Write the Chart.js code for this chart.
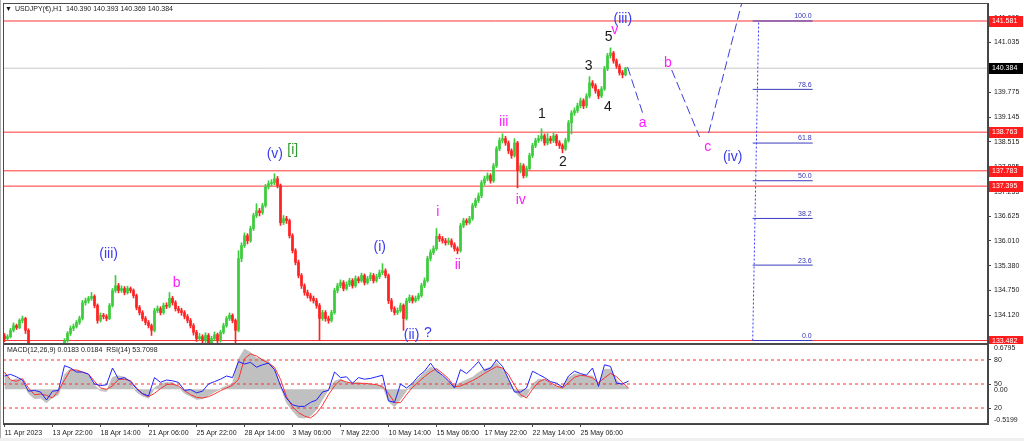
<!DOCTYPE html>
<html><head><meta charset="utf-8">
<script src="https://cdn.jsdelivr.net/npm/chart.js@4.4.0/dist/chart.umd.min.js"></script>
<style>
html,body{margin:0;padding:0;background:#fff;width:1024px;height:441px;overflow:hidden;}
#wrap{position:relative;width:1024px;height:441px;}
canvas{position:absolute;left:0;}
#main{top:0;}
#sub{top:343px;}
</style></head>
<body><div id="wrap"><canvas id="main" width="1024" height="344"></canvas><canvas id="sub" width="1024" height="98"></canvas></div>
<script>
// ---------- DATA ----------
const symbolTitle = 'USDJPY(\u20AC),H1  140.390 140.393 140.369 140.384';
const subTitle = 'MACD(12,26,9) 0.0183 0.0184  RSI(14) 53.7098';

// H1 candles aggregated to 4-hour bars, 11 Apr – 26 May 2023
const opens = [
133.60,133.53,133.58,133.74,133.86,133.81,133.99,134.04,133.74,133.28,
133.18,133.10,133.03,132.98,133.08,132.93,132.85,132.98,133.10,133.23,
133.33,133.48,133.66,133.79,133.84,133.94,134.04,134.44,134.49,134.55,
134.60,134.37,133.99,134.12,134.09,134.04,134.37,134.75,134.87,134.75,
134.80,134.70,134.80,134.75,134.62,134.32,134.19,134.04,133.94,133.86,
133.74,134.24,134.29,134.19,134.37,134.35,134.55,134.44,134.29,134.24,
134.19,134.09,133.99,133.86,133.69,133.53,133.58,133.48,133.61,133.41,
133.53,133.63,133.48,133.69,133.86,134.04,134.12,133.99,133.74,135.56,
135.89,136.14,136.01,136.32,136.65,136.77,136.72,136.90,137.38,137.46,
137.48,137.58,137.41,136.47,136.57,136.52,136.14,135.76,135.46,135.13,
134.87,134.70,134.62,134.55,134.49,134.37,134.04,134.19,134.04,133.99,
134.19,134.75,134.87,134.95,134.80,134.90,135.00,134.87,135.05,135.00,
135.13,134.95,135.05,135.13,135.00,135.10,135.20,135.25,135.13,134.49,
134.29,134.19,134.24,134.37,134.04,134.49,134.57,134.49,134.55,134.62,
134.87,135.00,135.56,135.71,135.81,136.12,136.06,136.01,135.96,136.01,
135.91,135.81,135.76,136.39,136.52,136.47,136.57,136.90,137.03,137.15,
137.48,137.58,137.66,137.53,137.91,138.34,138.55,138.60,138.49,138.29,
138.17,138.49,137.79,137.91,137.66,137.84,138.17,138.42,138.55,138.60,
138.67,138.49,138.60,138.55,138.67,138.49,138.42,138.34,138.55,139.00,
139.25,139.31,139.43,139.56,139.43,139.68,140.01,139.94,139.81,139.68,
139.86,140.37,140.70,140.77,140.57,140.44,140.27,140.22];
const highs = [
133.66,133.63,133.79,133.93,133.90,134.03,134.10,134.07,133.78,133.33,
133.24,133.15,133.08,133.14,133.12,132.98,133.03,133.16,133.27,133.39,
133.53,133.71,133.85,133.90,133.99,134.10,134.50,134.56,134.60,134.70,
134.64,134.41,134.18,134.17,134.14,134.42,134.80,135.13,134.93,134.87,
134.85,134.86,134.84,134.79,134.66,134.37,134.24,134.09,133.99,133.90,
134.30,134.36,134.34,134.43,134.44,134.70,134.60,134.49,134.35,134.30,
134.24,134.14,134.04,133.91,133.74,133.66,133.63,133.68,133.66,133.59,
133.70,133.67,133.74,133.92,134.09,134.18,134.16,134.03,135.76,135.96,
136.21,136.19,136.38,136.71,136.95,136.83,136.96,137.44,137.53,137.56,
137.71,137.64,137.45,136.65,136.63,136.56,136.19,135.81,135.52,135.18,
134.92,134.76,134.68,134.61,134.55,134.42,134.25,134.24,134.10,134.25,
134.81,134.93,135.02,135.00,134.97,135.06,135.05,135.12,135.10,135.19,
135.17,135.11,135.20,135.18,135.16,135.27,135.43,135.30,135.17,134.55,
134.34,134.31,134.43,134.41,134.55,134.64,134.62,134.61,134.68,134.93,
135.07,135.62,135.78,135.88,136.32,136.18,136.12,136.07,136.08,136.06,
135.96,135.86,136.45,136.58,136.57,136.63,136.96,137.09,137.22,137.54,
137.65,137.73,137.71,137.97,138.40,138.62,138.72,138.66,138.54,138.34,
138.60,138.53,137.98,137.96,137.90,138.23,138.48,138.61,138.68,138.85,
138.72,138.73,138.66,138.75,138.71,138.55,138.47,138.61,139.06,139.31,
139.38,139.50,139.63,139.61,139.74,140.17,140.07,139.99,139.85,139.92,
140.43,140.76,140.90,140.81,140.62,140.49,140.33,140.41];
const lows = [
133.45,133.49,133.55,133.70,133.76,133.78,133.93,133.66,133.22,133.12,
133.04,132.97,132.90,132.94,132.86,132.79,132.81,132.95,133.06,133.19,
133.29,133.44,133.61,133.73,133.80,133.89,134.00,134.38,134.43,134.50,
134.31,133.92,133.95,134.03,133.98,134.01,134.33,134.70,134.69,134.70,
134.64,134.66,134.69,134.56,134.26,134.13,133.98,133.88,133.80,133.61,
133.70,134.19,134.13,134.15,134.29,134.31,134.38,134.23,134.18,134.12,
134.03,133.93,133.80,133.62,133.46,133.48,133.40,133.43,133.35,133.37,
133.49,133.42,133.44,133.65,133.82,133.99,133.93,133.36,133.70,135.48,
135.84,135.93,135.97,136.27,136.60,136.64,136.68,136.86,137.32,137.40,
137.43,137.35,136.40,136.42,136.45,136.08,135.70,135.40,135.07,134.80,
134.63,134.56,134.48,134.43,134.30,133.48,133.99,133.97,133.92,133.95,
134.15,134.69,134.82,134.74,134.76,134.85,134.81,134.83,134.94,134.96,
134.89,134.91,135.00,134.94,134.96,135.05,135.15,135.07,134.42,134.22,
134.13,134.14,134.20,133.74,134.00,134.44,134.43,134.45,134.50,134.58,
134.82,134.96,135.50,135.66,135.77,135.99,135.95,135.90,135.91,135.85,
135.75,135.68,135.72,136.34,136.41,136.43,136.53,136.85,136.98,137.10,
137.42,137.53,137.47,137.49,137.87,138.29,138.49,138.43,138.22,138.10,
138.13,137.35,137.73,137.60,137.62,137.80,138.12,138.37,138.50,138.54,
138.43,138.44,138.48,138.50,138.42,138.35,138.24,138.30,138.51,138.72,
139.19,139.26,139.38,139.36,139.38,139.63,139.88,139.75,139.61,139.64,
139.82,140.32,140.64,140.51,140.38,140.21,140.14,140.19];
const closes = [
133.53,133.58,133.74,133.86,133.81,133.99,134.04,133.74,133.28,133.18,
133.10,133.03,132.98,133.08,132.93,132.85,132.98,133.10,133.23,133.33,
133.48,133.66,133.79,133.84,133.94,134.04,134.44,134.49,134.55,134.60,
134.37,133.99,134.12,134.09,134.04,134.37,134.75,134.87,134.75,134.80,
134.70,134.80,134.75,134.62,134.32,134.19,134.04,133.94,133.86,133.74,
134.24,134.29,134.19,134.37,134.35,134.55,134.44,134.29,134.24,134.19,
134.09,133.99,133.86,133.69,133.53,133.58,133.48,133.61,133.41,133.53,
133.63,133.48,133.69,133.86,134.04,134.12,133.99,133.74,135.56,135.89,
136.14,136.01,136.32,136.65,136.77,136.72,136.90,137.38,137.46,137.48,
137.58,137.41,136.47,136.57,136.52,136.14,135.76,135.46,135.13,134.87,
134.70,134.62,134.55,134.49,134.37,134.04,134.19,134.04,133.99,134.19,
134.75,134.87,134.95,134.80,134.90,135.00,134.87,135.05,135.00,135.13,
134.95,135.05,135.13,135.00,135.10,135.20,135.25,135.13,134.49,134.29,
134.19,134.24,134.37,134.04,134.49,134.57,134.49,134.55,134.62,134.87,
135.00,135.56,135.71,135.81,136.12,136.06,136.01,135.96,136.01,135.91,
135.81,135.76,136.39,136.52,136.47,136.57,136.90,137.03,137.15,137.48,
137.58,137.66,137.53,137.91,138.34,138.55,138.60,138.49,138.29,138.17,
138.49,137.79,137.91,137.66,137.84,138.17,138.42,138.55,138.60,138.67,
138.49,138.60,138.55,138.67,138.49,138.42,138.34,138.55,139.00,139.25,
139.31,139.43,139.56,139.43,139.68,140.01,139.94,139.81,139.68,139.86,
140.37,140.70,140.77,140.57,140.44,140.27,140.22,140.38];

// price scale
const priceTicks = [134.120,134.750,135.380,136.010,136.625,137.255,137.885,138.515,139.145,139.775,140.405,141.035,141.665];
const levelPrices = [141.581,138.763,137.783,137.395,133.482];
const lastPrice = 140.384;

// fibonacci retracement tool
const fibLabels = ['100.0','78.6','61.8','50.0','38.2','23.6','0.0'];
const fibPrices = [141.581,139.848,138.487,137.532,136.576,135.393,133.482];
const fibSpan = [249.4, 269.4];
const fibTrendIdx = [249.4, 251.4];
const fibTrendPrice = [133.482, 141.581];

// projected wave path (bar index, price) segments
const projStartIdx = [207.7, 222.4, 234.7];
const projStartPrice = [140.415, 140.34, 138.74];
const projEndIdx = [212.7, 231.7, 246.7];
const projEndPrice = [139.25, 138.64, 142.32];

// Elliott wave labels
const waveText  = ['(iii)','b','(v)','[i]','(i)','(ii)','?','i','ii','iii','iv','1','2','3','4','5','v','(iii)','a','b','c','(iv)'];
const waveIdx   = [34.7,57.4,90.1,96.1,125.1,135.7,141.1,144.4,151.1,166.4,172.1,179.1,186.1,194.7,201.1,201.4,203.4,206.1,212.7,221.1,234.4,242.7];
const wavePrice = [135.675,134.94,138.21,138.31,135.85,133.62,133.67,136.74,135.40,139.02,137.04,139.22,138.01,140.44,139.40,141.18,141.35,141.63,138.99,140.52,138.39,138.13];
const waveKind  = ['B','M','B','G','B','B','B','M','M','M','M','K','K','K','K','K','M','B','M','M','M','B'];

// time axis
const timeTickIdx = [0,16,32,48,64,80,96,112,128,144,160,176,192];
const timeTickLabels = ['11 Apr 2023','13 Apr 22:00','18 Apr 14:00','21 Apr 06:00','25 Apr 22:00','28 Apr 14:00','3 May 06:00','7 May 22:00','10 May 14:00','15 May 06:00','17 May 22:00','22 May 14:00','25 May 06:00'];

// indicators sampled every 2 bars
const macdMain = [0.25,0.12,0.16,0.12,-0.06,-0.14,-0.13,-0.20,-0.12,-0.08,
0.22,0.31,0.28,0.25,0.20,0.06,-0.02,-0.03,0.18,0.20,
0.18,0.10,-0.04,-0.10,-0.13,0.02,0.08,0.10,0.10,0.04,
-0.06,-0.10,-0.15,-0.14,-0.09,-0.04,0.01,0.05,0.08,0.45,
0.60,0.55,0.47,0.45,0.42,0.30,0.05,-0.20,-0.32,-0.42,
-0.43,-0.40,-0.30,-0.15,0.00,0.12,0.15,0.10,0.09,0.10,
0.08,0.07,0.06,0.06,-0.18,-0.26,-0.15,-0.02,0.08,0.16,
0.25,0.33,0.30,0.20,0.12,0.05,0.10,0.14,0.18,0.25,
0.30,0.33,0.40,0.30,0.15,-0.03,-0.12,-0.10,0.08,0.15,
0.14,0.08,0.04,0.03,0.17,0.23,0.22,0.20,0.20,0.07,
0.30,0.30,0.14,0.06,0.02];
const macdSignal = [0.26,0.14,0.12,0.16,0.02,-0.08,-0.07,-0.09,-0.13,-0.02,
0.14,0.29,0.29,0.26,0.23,0.12,0.02,0.00,0.05,0.15,
0.15,0.13,0.02,-0.07,-0.11,-0.06,0.01,0.07,0.08,0.05,
-0.02,-0.08,-0.12,-0.13,-0.11,-0.07,-0.02,0.02,0.06,0.15,
0.46,0.53,0.50,0.44,0.39,0.33,0.15,-0.11,-0.26,-0.35,
-0.40,-0.43,-0.36,-0.24,-0.08,0.05,0.14,0.11,0.09,0.09,
0.09,0.08,0.07,0.04,-0.06,-0.20,-0.20,-0.08,0.03,0.11,
0.19,0.26,0.31,0.24,0.16,0.04,0.05,0.09,0.13,0.18,
0.24,0.29,0.34,0.32,0.22,0.06,-0.08,-0.13,0.00,0.11,
0.15,0.10,0.05,0.02,0.10,0.18,0.21,0.20,0.17,0.10,
0.17,0.24,0.19,0.10,0.02];
const rsi = [60,62,59,55,41,42,40,30,41,42,
73,70,65,65,62,50,48,49,70,56,
58,53,44,38,35,58,52,55,54,52,
42,43,39,41,50,53,56,60,58,78,
75,77,71,74,76,68,48,32,24,22,
22,27,30,40,42,65,58,59,51,58,
56,57,59,61,29,27,50,45,51,60,
66,76,66,61,54,45,68,63,70,78,
67,70,80,72,56,40,40,45,66,62,
58,53,51,46,60,66,63,61,70,47,
74,72,51,50,53.7];
const rsiLevels = [80,50,20];
const macdScaleMin = -0.5199, macdScaleMax = 0.6795;
const macdLabelValues = [0.6795, 0, -0.5199];
const macdLabelTexts = ['0.6795','0.00','-0.5199'];

// ---------- STYLE ----------
const FONT = '"Liberation Sans", Arial, sans-serif';
const SMALL = 7;
const UP = '#3ccc3c', DOWN = '#ff2222';
const X_MIN = -0.5, X_MAX = -0.5 + 985/3;
const Y_MIN = 133.419, Y_MAX = 142.037;
const AXIS_W = 36;
const waveColors = {B:'#3b3bf0', M:'#ff1fff', K:'#1a1a1a', G:'#2f9a2f'};

const candleColor = ctx => closes[ctx.dataIndex] >= opens[ctx.dataIndex] ? UP : DOWN;
function segs(x1, y1, x2, y2) {
  const d = [];
  for (let i = 0; i < x1.length; i++) d.push({x:x1[i], y:y1[i]}, {x:x2[i], y:y2[i]}, {x:x2[i], y:null});
  return d;
}
const lineDS = (data, color, dash, order, yAxisID) => ({type:'line', data, borderColor:color, borderWidth:1, borderDash:dash||[], pointRadius:0, tension:0, spanGaps:false, order, yAxisID: yAxisID||'y', fill:false});
const fitV = s => { s.width = AXIS_W; s.paddingTop = 0; s.paddingBottom = 0; };

const mainOverlay = {
  id:'mainOverlay',
  afterDraw(chart) {
    const c = chart.ctx, a = chart.chartArea, xs = chart.scales.x, ys = chart.scales.y;
    c.save();
    c.strokeStyle = '#4a4a4a'; c.lineWidth = 1;
    c.strokeRect(a.left + 0.5, a.top + 0.5, a.right - a.left - 1, a.bottom - a.top);
    c.strokeStyle = '#b0b0b0'; c.beginPath(); c.moveTo(0.5, 0); c.lineTo(0.5, 344); c.stroke();
    // title
    c.fillStyle = '#111'; c.font = '7px ' + FONT; c.textBaseline = 'middle'; c.textAlign = 'left';
    c.fillText('\u25BC', 5, 9.5);
    c.font = SMALL + 'px ' + FONT; c.fillStyle = '#222';
    c.fillText(symbolTitle, 15, 9.5);
    // wave labels
    c.font = '14px ' + FONT; c.textAlign = 'center'; c.textBaseline = 'middle';
    for (let i = 0; i < waveText.length; i++) {
      c.fillStyle = waveColors[waveKind[i]];
      c.fillText(waveText[i], xs.getPixelForValue(waveIdx[i]), ys.getPixelForValue(wavePrice[i]));
    }
    // fib labels
    c.font = '7px ' + FONT; c.fillStyle = '#3434b4'; c.textAlign = 'right'; c.textBaseline = 'bottom';
    for (let i = 0; i < fibLabels.length; i++) {
      c.fillText(fibLabels[i], xs.getPixelForValue(fibSpan[1]) - 1, ys.getPixelForValue(fibPrices[i]) - 1);
    }
    // price boxes on axis
    c.font = SMALL + 'px ' + FONT; c.textAlign = 'left'; c.textBaseline = 'middle';
    const box = (v, bg) => {
      const y = Math.round(ys.getPixelForValue(v));
      c.fillStyle = bg; c.fillRect(a.right + 1, y - 5, 34, 11);
      c.fillStyle = '#fff'; c.fillText(v.toFixed(3), a.right + 4, y + 0.5);
    };
    levelPrices.forEach(v => box(v, '#ff1c1c'));
    box(lastPrice, '#000');
    c.restore();
  }
};

new Chart(document.getElementById('main'), {
  type: 'bar',
  data: { datasets: [
    {type:'bar', data: opens.map((o, i) => ({x:i, y:[lows[i], highs[i]]})), backgroundColor: candleColor, barThickness:1, grouped:false, borderWidth:0, order:1},
    {type:'bar', data: opens.map((o, i) => ({x:i, y:[o, closes[i]]})), backgroundColor: candleColor, barThickness:2, grouped:false, borderWidth:0, minBarLength:1, order:0},
    lineDS(segs(levelPrices.map(() => X_MIN), levelPrices, levelPrices.map(() => X_MAX), levelPrices), '#ff3434', [], 6),
    lineDS(segs([X_MIN], [lastPrice], [X_MAX], [lastPrice]), '#c8c8c8', [], 7),
    lineDS(segs(fibPrices.map(() => fibSpan[0]), fibPrices, fibPrices.map(() => fibSpan[1]), fibPrices), '#3c3cc0', [], 4),
    lineDS(segs([fibTrendIdx[0]], [fibTrendPrice[0]], [fibTrendIdx[1]], [fibTrendPrice[1]]), '#3a3aff', [2, 2], 3),
    lineDS(segs(projStartIdx, projStartPrice, projEndIdx, projEndPrice), '#3c3cdc', [9, 4], 2)
  ]},
  options: {
    responsive:false, animation:false, events:[],
    layout:{padding:{left:3, top:3, right:0, bottom:1}},
    plugins:{legend:{display:false}, tooltip:{enabled:false}},
    scales:{
      x:{type:'linear', min:X_MIN, max:X_MAX, offset:false, display:false, grid:{offset:false}},
      y:{type:'linear', position:'right', min:Y_MIN, max:Y_MAX,
         afterBuildTicks: s => { s.ticks = priceTicks.map(v => ({value:v})); },
         afterFit: fitV,
         ticks:{font:{family:FONT, size:SMALL}, color:'#222', padding:3, autoSkip:false, callback: v => v.toFixed(3)},
         grid:{drawOnChartArea:false, tickLength:3, color:'#444'},
         border:{display:true, color:'#444'}}
    }
  },
  plugins:[mainOverlay]
});

const subOverlay = {
  id:'subOverlay',
  afterDraw(chart) {
    const c = chart.ctx, a = chart.chartArea, ym = chart.scales.yM;
    c.save();
    c.strokeStyle = '#4a4a4a'; c.lineWidth = 1;
    c.strokeRect(a.left + 0.5, a.top + 0.5, a.right - a.left - 1, a.bottom - a.top - 1);
    c.strokeStyle = '#b0b0b0'; c.beginPath(); c.moveTo(0.5, 0); c.lineTo(0.5, 98); c.stroke();
    c.fillStyle = '#f0f0f0'; c.fillRect(0, 95, 1024, 3);
    c.fillStyle = '#222'; c.font = SMALL + 'px ' + FONT; c.textAlign = 'left'; c.textBaseline = 'middle';
    c.fillText(subTitle, 7, 7.5);
    for (let i = 0; i < macdLabelValues.length; i++) {
      const v = macdLabelValues[i];
      let y = ym.getPixelForValue(v), base = 'middle';
      if (v === macdScaleMax) { base = 'top'; y += 1; }
      else if (v === macdScaleMin) { base = 'bottom'; }
      else { y += 1; }
      c.textBaseline = base;
      c.fillText(macdLabelTexts[i], a.right + 6, y);
    }
    c.restore();
  }
};

new Chart(document.getElementById('sub'), {
  type: 'line',
  data: { datasets: [
    {type:'line', data: macdMain.map((v, k) => ({x:2 * k, y:v})), yAxisID:'yM', borderColor:'#c0c0c0', borderWidth:1, backgroundColor:'#c0c0c0', fill:'origin', pointRadius:0, tension:0, order:5},
    lineDS(segs(rsiLevels.map(() => X_MIN), rsiLevels, rsiLevels.map(() => X_MAX), rsiLevels), '#ff3030', [3, 3], 4, 'yR'),
    lineDS(macdSignal.map((v, k) => ({x:2 * k, y:v})), '#ff3030', [], 2, 'yM'),
    lineDS(rsi.map((v, k) => ({x:2 * k, y:v})), '#2020ff', [], 1, 'yR')
  ]},
  options: {
    responsive:false, animation:false, events:[],
    layout:{padding:{left:3, top:1, right:0, bottom:0}},
    plugins:{legend:{display:false}, tooltip:{enabled:false}},
    scales:{
      x:{type:'linear', min:X_MIN, max:X_MAX, offset:false, position:'bottom',
         afterBuildTicks: s => { s.ticks = timeTickIdx.map(v => ({value:v})); },
         afterFit: s => { s.height = 17; s.paddingLeft = 0; s.paddingRight = 0; },
         ticks:{font:{family:FONT, size:SMALL}, color:'#222', align:'start', padding:2, autoSkip:false, maxRotation:0, minRotation:0,
                callback: v => timeTickLabels[timeTickIdx.indexOf(v)]},
         grid:{drawOnChartArea:false, tickLength:3, color:'#444', offset:false},
         border:{display:true, color:'#444'}},
      yR:{type:'linear', position:'right', min:0, max:100,
          afterBuildTicks: s => { s.ticks = rsiLevels.map(v => ({value:v})); },
          afterFit: fitV,
          ticks:{font:{family:FONT, size:SMALL}, color:'#222', padding:3, autoSkip:false},
          grid:{drawOnChartArea:false, tickLength:3, color:'#444'},
          border:{display:true, color:'#444'}},
      yM:{type:'linear', display:false, min:macdScaleMin, max:macdScaleMax}
    }
  },
  plugins:[subOverlay]
});
</script>
</body></html>
